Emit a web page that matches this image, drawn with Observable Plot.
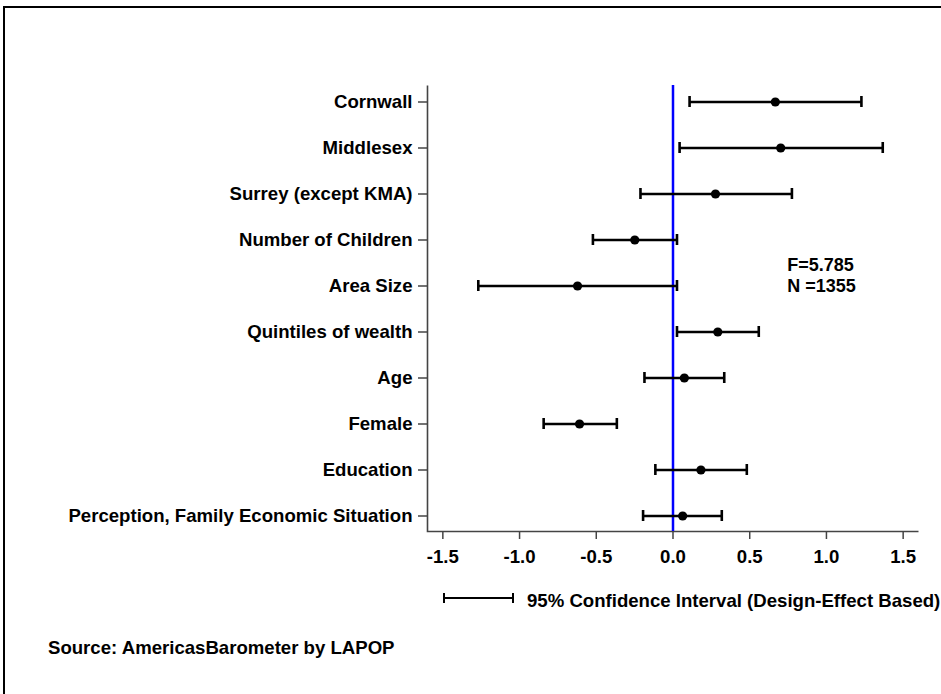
<!DOCTYPE html>
<html>
<head>
<meta charset="utf-8">
<script src="https://cdn.jsdelivr.net/npm/d3@7"></script>
<script src="https://cdn.jsdelivr.net/npm/@observablehq/plot@0.6"></script>
<style>
  html, body { margin: 0; padding: 0; background: #fff; overflow: hidden; }
  #wrap { position: relative; width: 941px; height: 694px; font-family: "Liberation Sans", Arial, sans-serif; font-weight: bold; }
  #chart { position: absolute; left: 0; top: 0; }
  #border { position: absolute; left: 3px; top: 6px; width: 960px; height: 720px; border: 2.5px solid #000; pointer-events: none; z-index: 5; }
  .txt { position: absolute; font-size: 18.6px; color: #000; white-space: nowrap; line-height: 19px; }
</style>
</head>
<body>
<div id="wrap">
  <div id="chart"></div>
  <svg id="legendKey" style="position:absolute;left:440px;top:588px" width="80" height="20"></svg>
  <div class="txt" id="legendText" style="left:527px;top:591px;"></div>
  <div class="txt" id="source" style="left:48px;top:638px;"></div>
  <div id="border"></div>
</div>
<script>
const categories = ["Cornwall", "Middlesex", "Surrey (except KMA)", "Number of Children", "Area Size",
  "Quintiles of wealth", "Age", "Female", "Education", "Perception, Family Economic Situation"];
const estimates = [0.667, 0.702, 0.277, -0.249, -0.622, 0.292, 0.074, -0.609, 0.182, 0.063];
const lower = [0.108, 0.043, -0.212, -0.522, -1.269, 0.026, -0.186, -0.843, -0.115, -0.195];
const upper = [1.228, 1.367, 0.775, 0.026, 0.026, 0.559, 0.334, -0.366, 0.481, 0.318];
const xTicks = [-1.5, -1.0, -0.5, 0.0, 0.5, 1.0, 1.5];
const statsLines = ["F=5.785", "N =1355"];
const legendLabel = "95% Confidence Interval (Design-Effect Based)";
const sourceLabel = "Source: AmericasBarometer by LAPOP";

const data = categories.map((name, i) => ({name, est: estimates[i], lo: lower[i], hi: upper[i]}));

const W = 941, H = 580, mL = 427, mR = 23, mT = 85, mB = 49;
const fw = W - mL - mR, fh = H - mT - mB;

const chart = Plot.plot({
  width: W,
  height: H,
  marginLeft: mL,
  marginRight: mR,
  marginTop: mT,
  marginBottom: mB,
  style: {fontFamily: "'Liberation Sans', Arial, sans-serif", fontSize: "18.6px", fontWeight: "bold", color: "#000", background: "transparent"},
  x: {domain: [-1.6, 1.6]},
  y: {type: "band", domain: categories, paddingInner: 0.762, paddingOuter: 0.2},
  marks: [
    // left and bottom axis lines only (top and right hidden by the dash pattern)
    Plot.frame({stroke: "#444", strokeWidth: 1.6, strokeDasharray: `0 ${fw + fh} ${fw + fh}`}),
    Plot.axisX({ticks: xTicks, tickFormat: d => d.toFixed(1), tickSize: 8, tickPadding: 10, stroke: "#444", strokeWidth: 1.5, label: null, fill: "#000"}),
    Plot.axisY({tickSize: 9, tickPadding: 6, stroke: "#444", strokeWidth: 1.5, label: null, fill: "#000"}),
    Plot.ruleX([0], {stroke: "#0000ff", strokeWidth: 2.5}),
    Plot.ruleY(data, {y: "name", x1: "lo", x2: "hi", stroke: "#000", strokeWidth: 2.6}),
    Plot.tickX(data, {y: "name", x: "lo", stroke: "#000", strokeWidth: 2.6}),
    Plot.tickX(data, {y: "name", x: "hi", stroke: "#000", strokeWidth: 2.6}),
    Plot.dot(data, {y: "name", x: "est", r: 4.6, fill: "#000", stroke: null}),
    Plot.text([statsLines[0]], {x: 0.745, y: () => "Area Size", textAnchor: "start", dy: -20.5, fontSize: 18, fontWeight: "bold", fill: "#000"}),
    Plot.text([statsLines[1]], {x: 0.745, y: () => "Area Size", textAnchor: "start", dy: 0.5, fontSize: 18, fontWeight: "bold", fill: "#000"})
  ]
});
document.getElementById("chart").appendChild(chart);

// legend key (errorbar glyph)
const key = d3.select("#legendKey");
key.append("line").attr("x1", 4).attr("x2", 73).attr("y1", 10).attr("y2", 10).attr("stroke", "#000").attr("stroke-width", 2);
key.append("line").attr("x1", 4).attr("x2", 4).attr("y1", 5).attr("y2", 15).attr("stroke", "#000").attr("stroke-width", 2);
key.append("line").attr("x1", 73).attr("x2", 73).attr("y1", 5).attr("y2", 15).attr("stroke", "#000").attr("stroke-width", 2);
document.getElementById("legendText").textContent = legendLabel;
document.getElementById("source").textContent = sourceLabel;
</script>
</body>
</html>
